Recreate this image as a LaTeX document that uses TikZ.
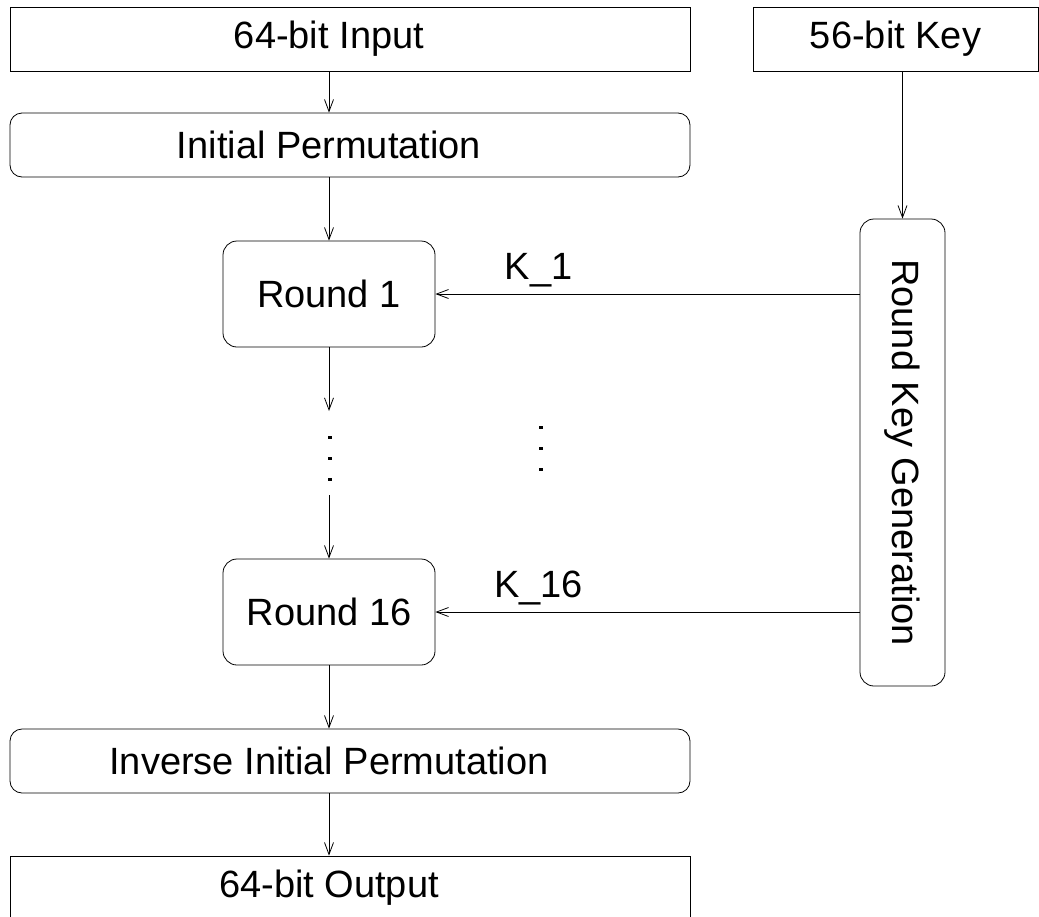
\documentclass[tikz,border=0pt]{standalone}
\usepackage{fontspec}
\setmainfont{Liberation Sans}
\usetikzlibrary{arrows.meta, positioning}

\tikzset{
  box/.style={draw, thin, inner sep=0pt, minimum width=340pt, minimum height=32pt},
  roundbox/.style={box, rounded corners=6pt},
  boxtext/.style={label={[xshift=-10.5pt]center:#1}},
  roundstep/.style={draw, thin, inner sep=0pt, rounded corners=7pt, minimum width=106pt, minimum height=53pt},
  flow/.style={thin, -{Straight Barb[length=6pt, width=4.5pt]}},
}

\begin{document}
\begin{tikzpicture}[x=0.5pt, y=-0.5pt, font=\fontsize{19}{22.8}\selectfont]

  \clip (0,0) rectangle (1039,916);

  % left column (texts sit over the arrow line, left of the box centre)
  \node[box, boxtext=64-bit Input] (input) at (350,39) {};
  \node[roundbox, boxtext=Initial Permutation] (ip) at (350,145) {};
  \node[roundstep] (r1) at (329,294) {Round 1};
  \node[roundstep] (r16) at (329,612) {Round 16};
  \node[roundbox, boxtext=Inverse Initial Permutation] (iip) at (350,761) {};
  \node[box, boxtext=64-bit Output] (output) at (350,888) {};

  % key column (rotated: west is the top, south is the left side)
  \node[box, minimum width=142.5pt] (key) at (895.5,39) {56-bit Key};
  \node[draw, thin, inner sep=0pt, rounded corners=7pt, rotate=-90,
        minimum width=233.5pt, minimum height=42.5pt] (rkg) at (902.5,452.5) {Round Key Generation};

  \coordinate (gapA) at (329,411);
  \coordinate (gapB) at (329,495);

  % arrows
  \draw[flow] (r1.north |- input.south) -- (r1.north |- ip.north);
  \draw[flow] (r1.north |- ip.south) -- (r1.north);
  \draw[flow] (r1.south) -- (gapA);
  \draw[flow] (gapB) -- (r16.north);
  \draw[flow] (r16.south) -- (r16.south |- iip.north);
  \draw[flow] (r16.south |- iip.south) -- (r16.south |- output.north);
  \draw[flow] (rkg.west |- key.south) -- (rkg.west);

  \draw[flow] (rkg.south |- r1.east) -- node[above, pos=0.757] (k1) {K\_1} (r1.east);
  \draw[flow] (rkg.south |- r16.east) -- node[above, pos=0.757] (k16) {K\_16} (r16.east);

  % dots
  \foreach \y in {437,458,479} \fill (327.5,\y-1.5) rectangle (331.5,\y+1.5);
  \foreach \y in {427,448,469} \fill (538.5,\y-1.5) rectangle (542.5,\y+1.5);

\end{tikzpicture}
\end{document}
